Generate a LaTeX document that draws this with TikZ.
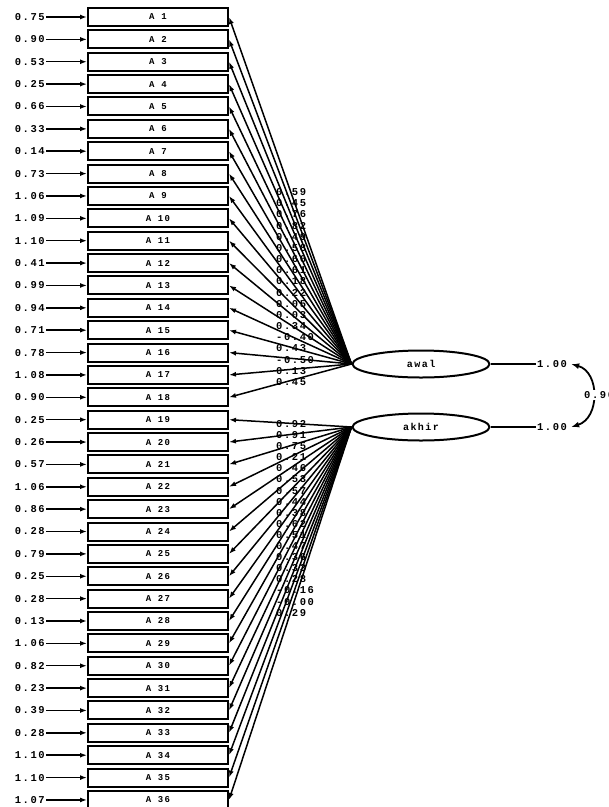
\documentclass[tikz,border=0pt]{standalone}
\usepackage{fontspec}
\newfontfamily\lis[LetterSpace=15]{Liberation Mono}
\usetikzlibrary{arrows.meta,shapes.geometric}
\begin{document}
\begin{tikzpicture}[x=1pt,y=-1pt,
  obs/.style={draw,line width=2pt,minimum width=140pt,minimum height=18pt,inner sep=0pt,
    font=\lis\bfseries\fontsize{9}{9}\selectfont},
  lat/.style={draw,ellipse,line width=2pt,minimum width=137pt,minimum height=27pt,inner sep=0pt,
    font=\lis\bfseries\fontsize{10}{10}\selectfont},
  num/.style={font=\lis\bfseries\fontsize{10.5}{10.5}\selectfont,inner sep=1pt},
  arr/.style={line width=1.5pt,-{Latex[length=7pt,width=5pt]}},
  plainline/.style={line width=1.5pt},
  dbl/.style={line width=1.8pt,{Latex[length=8pt,width=6pt]}-{Latex[length=8pt,width=6pt]}}]
\useasboundingbox (0,0) rectangle (609,807);

% observed variables and error terms
\foreach \i/\v in {1/0.75,2/0.90,3/0.53,4/0.25,5/0.66,6/0.33,7/0.14,8/0.73,9/1.06,
  10/1.09,11/1.10,12/0.41,13/0.99,14/0.94,15/0.71,16/0.78,17/1.08,18/0.90,
  19/0.25,20/0.26,21/0.57,22/1.06,23/0.86,24/0.28,25/0.79,26/0.25,27/0.28,
  28/0.13,29/1.06,30/0.82,31/0.23,32/0.39,33/0.28,34/1.10,35/1.10,36/1.07}{
  \pgfmathsetmacro{\yy}{17+(\i-1)*22.37}
  \node[obs] (b\i) at (158,\yy) {A \i};
  \node[num,anchor=east] (e\i) at (46,\yy) {\v};
  \draw[arr] (e\i.east) -- (b\i.west);
}

% latent variables
\node[lat] (awal) at (421,364) {awal};
\node[lat] (akhir) at (421,427) {akhir};

% loadings on awal
\foreach \i/\v in {1/0.59,2/0.45,3/0.76,4/0.82,5/0.49,6/0.58,7/0.66,8/0.61,9/0.18,
  10/0.22,11/0.05,12/0.03,13/0.34,14/-0.40,15/0.43,16/-0.50,17/0.13,18/0.45}{
  \pgfmathsetmacro{\yy}{192+(\i-1)*11.18}
  \draw[arr] (awal.west) -- (b\i.east);
  \node[num,anchor=west] (l\i) at (275,\yy) {\v};
}

% loadings on akhir
\foreach \i/\v in {1/0.92,2/0.91,3/0.75,4/0.21,5/0.46,6/0.53,7/0.57,8/0.44,9/0.38,
  10/0.62,11/0.51,12/0.47,13/0.36,14/0.33,15/0.28,16/-0.16,17/-0.00,18/0.29}{
  \pgfmathtruncatemacro{\j}{\i+18}
  \pgfmathsetmacro{\yy}{424+(\i-1)*11.1}
  \draw[arr] (akhir.west) -- (b\j.east);
  \node[num,anchor=west] (l\j) at (275,\yy) {\v};
}

% variances and covariance
\node[num] (v1) at (552,364) {1.00};
\node[num] (v2) at (552,427) {1.00};
\draw[plainline] (awal.east) -- (v1.west);
\draw[plainline] (akhir.east) -- (v2.west);
\coordinate (c1) at ([xshift=3pt]v1.east);
\coordinate (c2) at ([xshift=3pt]v2.east);
\draw[dbl] (c1) .. controls (600,372) and (600,418) .. (c2);
\node[num,anchor=west,fill=white] (cov) at (583,395) {0.90};
\end{tikzpicture}
\end{document}
